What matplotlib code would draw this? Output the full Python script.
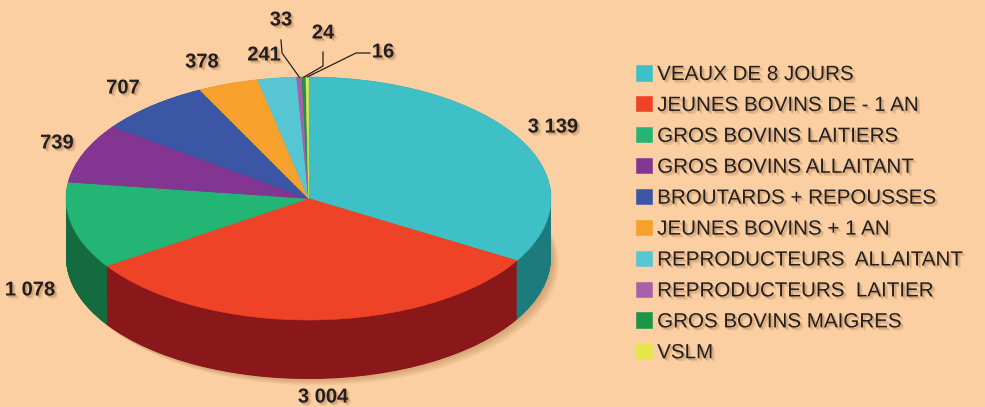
import numpy as np
import matplotlib.pyplot as plt
import matplotlib.patheffects as pe

categories = [
    "VEAUX DE 8 JOURS",
    "JEUNES BOVINS DE - 1 AN",
    "GROS BOVINS LAITIERS",
    "GROS BOVINS ALLAITANT",
    "BROUTARDS + REPOUSSES",
    "JEUNES BOVINS + 1 AN",
    "REPRODUCTEURS  ALLAITANT",
    "REPRODUCTEURS  LAITIER",
    "GROS BOVINS MAIGRES",
    "VSLM",
]
values = [3139, 3004, 1078, 739, 707, 378, 241, 33, 24, 16]
value_labels = ["3 139", "3 004", "1 078", "739", "707", "378", "241", "33", "24", "16"]

top_colors = ["#3fc0c7", "#ef4327", "#23b574", "#833592", "#3a56a5",
              "#f6a12b", "#56c5d4", "#a760aa", "#1b9547", "#e6e64a"]
side_colors = ["#1e7b7d", "#8a181a", "#156b40", "#55215f", "#24366b",
               "#a0681b", "#37808a", "#6c3e6e", "#11602e", "#96962f"]

bg = "#fbcfa1"
txt = "#231f20"

W, H = 985, 407
cx, cy = 308.5, 198.5      # pie centre in pixels (from top-left)
rx, ry = 242.5, 121.5      # ellipse radii in pixels
depth = 59 / ry


def px(x, y):
    # pixel position -> data units of the squashed pie axes
    return (x - cx) / rx, (cy - y) / ry


fig = plt.figure(figsize=(W / 100, H / 100), dpi=100)
fig.patch.set_facecolor(bg)
ax = fig.add_axes([0, 0, 1, 1])
ax.set_facecolor(bg)

pie_kw = dict(startangle=90, counterclock=False, radius=1)

# soft drop shadow under the body
for k in range(5):
    ax.pie([1], colors=["#8a5526"], center=(0.008 + 0.006 * k, -depth - 0.012 - 0.01 * k),
           wedgeprops=dict(linewidth=0, alpha=0.07), **pie_kw)

# extruded side wall: stacked pies in darker colours
for d in np.linspace(depth, 0.0, 120):
    ax.pie(values, colors=side_colors, center=(0, -d), wedgeprops=dict(linewidth=0), **pie_kw)

# top face
wedges, _ = ax.pie(values, colors=top_colors, center=(0, 0), **pie_kw)
for w in wedges:
    w.set_edgecolor(w.get_facecolor())
    w.set_linewidth(0.4)

shadow = [pe.SimplePatchShadow(offset=(1.2, -1.2), shadow_rgbFace="#7a4a20", alpha=0.25),
          pe.SimplePatchShadow(offset=(2.2, -2.2), shadow_rgbFace="#7a4a20", alpha=0.15),
          pe.Normal()]

# value labels (pixel positions of label centres)
label_pos = [(553, 127), (323, 397), (30, 290), (57, 143), (123, 88),
             (202, 62), (264, 55), (281, 20), (323, 33), (383, 52)]
for (x, y), s in zip(label_pos, value_labels):
    ax.text(*px(x, y), s, ha="center", va="center", fontsize=14.5, fontweight="bold",
            family="Liberation Sans", color=txt, path_effects=shadow)

# leader lines for the three thinnest slices
total = sum(values)
cum = np.cumsum([0] + values)
mid = (cum[:-1] + cum[1:]) / 2 / total * 2 * np.pi   # clockwise from top
elbows = {7: [(281, 40), (282, 53)], 8: [(323, 52), (323, 66)], 9: [(370, 53), (356, 53)]}
for i, pts in elbows.items():
    xs = [px(*p)[0] for p in pts] + [np.sin(mid[i])]
    ys = [px(*p)[1] for p in pts] + [np.cos(mid[i])]
    ax.plot(xs, ys, color="#2a2018", lw=0.9)

ax.set_xlim(-cx / rx, (W - cx) / rx)
ax.set_ylim((cy - H) / ry, cy / ry)
ax.set_aspect("auto")
ax.axis("off")

leg = fig.legend(wedges, categories, loc="upper left", bbox_to_anchor=(636 / W, 1 - 65 / H),
                 frameon=False, prop=dict(family="Liberation Sans", size=14.8),
                 handlelength=0.78, handleheight=0.78, handletextpad=0.25,
                 labelspacing=0.58, borderpad=0, borderaxespad=0)
for t in leg.get_texts():
    t.set_color(txt)
    t.set_path_effects(shadow)

fig.savefig("out.png", dpi=100, facecolor=bg)
